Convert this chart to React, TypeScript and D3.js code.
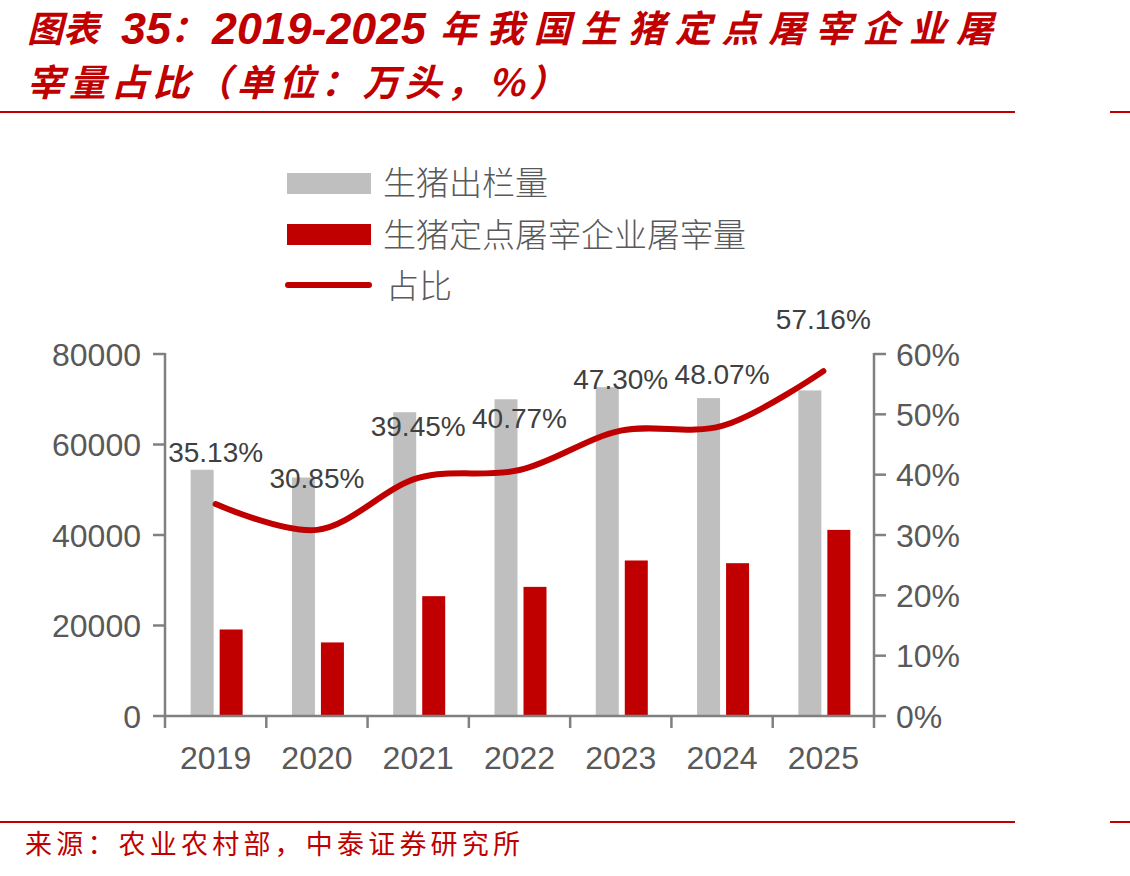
import React from "react";
import * as d3 from "d3";

const years = ["2019", "2020", "2021", "2022", "2023", "2024", "2025"];
const hogOutput = [54419, 52704, 67128, 69995, 72662, 70256, 71950];
const slaughter = [19117, 16259, 26482, 28537, 34369, 33772, 41130];
const share = [35.13, 30.85, 39.45, 40.77, 47.3, 48.07, 57.16];
const leftTicks = [0, 20000, 40000, 60000, 80000];
const rightTicks = [0, 10, 20, 30, 40, 50, 60];
const legendLabels = ["生猪出栏量", "生猪定点屠宰企业屠宰量", "占比"];
const titleParts = ["图表", "35：", "2019-2025", "年我国生猪定点屠宰企业屠"];
const titleLine2 = "宰量占比（单位：万头，%）";
const sourceText = "来源：农业农村部，中泰证券研究所";

const RED = "#c00000";
const GRAY = "#bfbfbf";
const AXIS = "#808080";
const TXT = "#595959";
const NUM_FONT = "'Liberation Sans', Arial, sans-serif";
const CJK_FONT = "'Noto Sans CJK SC', sans-serif";

export default function App() {
  const x = d3.scaleBand<string>().domain(years).range([165, 874]).padding(0);
  const yL = d3.scaleLinear().domain([0, 80000]).range([716, 354]);
  const yR = d3.scaleLinear().domain([0, 60]).range([716, 354]);
  const cx = (y: string) => (x(y) as number) + x.bandwidth() / 2;

  const line = d3
    .line<number>()
    .x((_, i) => cx(years[i]))
    .y((d) => yR(d))
    .curve(d3.curveCatmullRom.alpha(0.5));

  const boundaries = d3.range(years.length + 1).map((i) => 165 + i * x.bandwidth());

  return (
    <svg
      width={1130}
      height={876}
      style={{ position: "absolute", left: 0, top: 0, background: "#fff" }}
    >
      <rect x={0} y={0} width={1130} height={876} fill="#fff" />
      {/* Title */}
      <g fill={RED} fontWeight={700} fontStyle="italic">
        <text x={27} y={42} fontFamily={CJK_FONT} fontSize={36}>
          {titleParts[0]}
        </text>
        <text x={121} y={44} fontFamily={NUM_FONT} fontSize={44} textLength={50} lengthAdjust="spacingAndGlyphs">
          {titleParts[1].slice(0, 2)}
        </text>
        <text x={170} y={42} fontFamily={CJK_FONT} fontSize={37}>
          {titleParts[1].slice(2)}
        </text>
        <text x={212} y={44} fontFamily={NUM_FONT} fontSize={44} textLength={214} lengthAdjust="spacingAndGlyphs">
          {titleParts[2]}
        </text>
        <text x={440} y={42} fontFamily={CJK_FONT} fontSize={37} textLength={553} lengthAdjust="spacing">
          {titleParts[3]}
        </text>
        <text x={27} y={96} fontFamily={CJK_FONT} fontSize={37} textLength={539} lengthAdjust="spacing">
          {titleLine2}
        </text>
      </g>
      <line x1={0} x2={1015} y1={112} y2={112} stroke={RED} strokeWidth={2} />
      <line x1={1110} x2={1130} y1={112} y2={112} stroke={RED} strokeWidth={2} />

      {/* Legend */}
      <g fontFamily={CJK_FONT} fontSize={33} fontWeight={300} fill={TXT}>
        <rect x={287} y={173} width={84} height={21} fill={GRAY} />
        <text x={383} y={195}>{legendLabels[0]}</text>
        <rect x={287} y={224} width={84} height={21} fill={RED} />
        <text x={383} y={247}>{legendLabels[1]}</text>
        <line x1={288} x2={369} y1={285} y2={285} stroke={RED} strokeWidth={6} strokeLinecap="round" />
        <text x={386} y={298}>{legendLabels[2]}</text>
      </g>

      {/* Bars */}
      {years.map((yr, i) => (
        <rect
          key={"g" + yr}
          x={cx(yr) - 25}
          y={yL(hogOutput[i])}
          width={23}
          height={716 - yL(hogOutput[i])}
          fill={GRAY}
        />
      ))}
      {years.map((yr, i) => (
        <rect
          key={"r" + yr}
          x={cx(yr) + 4}
          y={yL(slaughter[i])}
          width={23}
          height={716 - yL(slaughter[i])}
          fill={RED}
        />
      ))}

      {/* Axes */}
      <g stroke={AXIS} strokeWidth={2.5} fill="none">
        <line x1={165} x2={165} y1={353} y2={716} />
        {leftTicks.map((t) => (
          <line key={"lt" + t} x1={153} x2={165} y1={yL(t)} y2={yL(t)} />
        ))}
        <line x1={874} x2={874} y1={353} y2={716} />
        {rightTicks.map((t) => (
          <line key={"rt" + t} x1={874} x2={886} y1={yR(t)} y2={yR(t)} />
        ))}
        <line x1={165} x2={874} y1={716} y2={716} />
        {boundaries.map((b, i) => (
          <line key={"bt" + i} x1={b} x2={b} y1={716} y2={728} />
        ))}
      </g>

      {/* Axis labels */}
      <g fontFamily={NUM_FONT} fontSize={32} fill={TXT}>
        {leftTicks.map((t) => (
          <text key={"ll" + t} x={141} y={yL(t) + 11.5} textAnchor="end">
            {String(t)}
          </text>
        ))}
        {rightTicks.map((t) => (
          <text key={"rl" + t} x={896} y={yR(t) + 11.5}>
            {t + "%"}
          </text>
        ))}
        {years.map((yr) => (
          <text key={"xl" + yr} x={cx(yr)} y={769} textAnchor="middle">
            {yr}
          </text>
        ))}
      </g>

      {/* Line */}
      <path d={line(share) || ""} fill="none" stroke={RED} strokeWidth={6} strokeLinecap="round" />

      {/* Data labels */}
      <g fontFamily={NUM_FONT} fontSize={28} fill="#404040">
        {years.map((yr, i) => (
          <text key={"dl" + yr} x={cx(yr)} y={yR(share[i]) - 42} textAnchor="middle">
            {share[i].toFixed(2) + "%"}
          </text>
        ))}
      </g>

      {/* Source */}
      <line x1={0} x2={1015} y1={822} y2={822} stroke={RED} strokeWidth={2} />
      <line x1={1110} x2={1130} y1={822} y2={822} stroke={RED} strokeWidth={2} />
      <text
        x={25}
        y={854}
        fontFamily={CJK_FONT}
        fontSize={27}
        fill={RED}
        textLength={495}
        lengthAdjust="spacing"
      >
        {sourceText}
      </text>
    </svg>
  );
}
